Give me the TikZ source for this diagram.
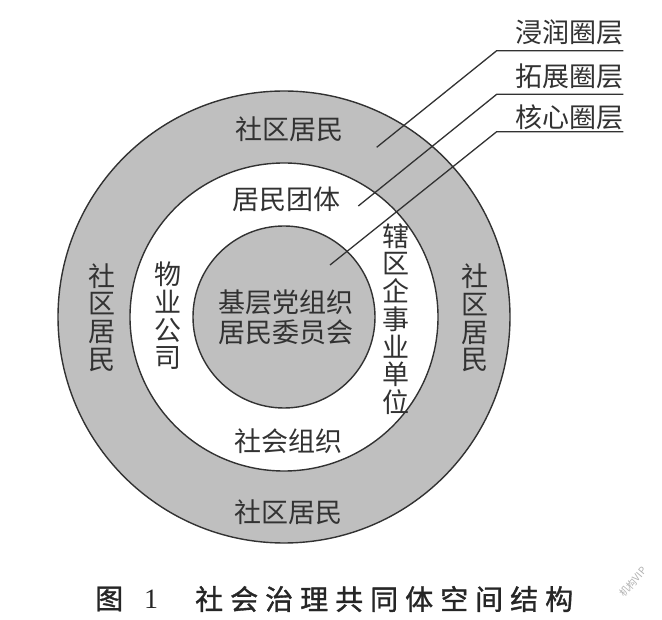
\documentclass[tikz,border=0pt]{standalone}
\usepackage{fontspec}
\newfontfamily\cjk{Noto Sans CJK SC}
\newfontfamily\capfont[LetterSpace=25,FakeBold=1.2]{Noto Sans CJK SC}
\newfontfamily\numfont{Liberation Serif}
\definecolor{ringgray}{RGB}{191,191,191}
\definecolor{inkc}{RGB}{50,50,50}
\begin{document}
\begin{tikzpicture}[x=1pt,y=-1pt,
  lbl/.style={font=\cjk\fontsize{27}{28}\selectfont, text=inkc, inner sep=0pt},
  vlbl/.style={font=\cjk\fontsize{27}{27.7}\selectfont, text=inkc, inner sep=0pt, align=center},
  ring/.style={circle, draw=inkc, line width=1.4pt, inner sep=0pt, outer sep=0pt},
  leader/.style={draw=inkc, line width=1.3pt},
  captxt/.style={font=\capfont\fontsize{28}{30}\selectfont, text=black!85, inner sep=0pt}]
\useasboundingbox[fill=white] (0,0) rectangle (662,620);
% rings
\node[ring, fill=ringgray, minimum size=452pt] (outer) at (284,317) {};
\node[ring, fill=white, minimum size=308pt] (middle) at (284,317) {};
\node[ring, fill=ringgray, minimum size=182pt] (inner) at (284,317) {};
% ring texts
\node[lbl] (t1) at (289,129.5) {社区居民};
\node[lbl] (t2) at (286,199) {居民团体};
\node[vlbl, font=\cjk\fontsize{27}{30}\selectfont] (t3) at (286,317) {基层党组织\\居民委员会};
\node[lbl] (t4) at (288,441) {社会组织};
\node[lbl] (t5) at (288,512) {社区居民};
\node[vlbl] (t6) at (102,317.5) {社\\区\\居\\民};
\node[vlbl] (t7) at (168,316) {物\\业\\公\\司};
\node[vlbl] (t8) at (396,319) {辖\\区\\企\\事\\业\\单\\位};
\node[vlbl] (t9) at (475,318) {社\\区\\居\\民};
% leader labels
\node[lbl, anchor=east] (l1) at (623.5,32.5) {浸润圈层};
\node[lbl, anchor=east] (l2) at (623.5,76) {拓展圈层};
\node[lbl, anchor=east] (l3) at (623.5,117.5) {核心圈层};
\coordinate (e1) at (376.7,147.3);
\coordinate (k1) at (496.7,50.7);
\coordinate (u1) at (623.3,50.7);
\coordinate (e2) at (358.3,206);
\coordinate (k2) at (496.7,94.3);
\coordinate (u2) at (623.3,94.3);
\coordinate (e3) at (330,265);
\coordinate (k3) at (496.7,131.7);
\coordinate (u3) at (623.3,131.7);
\draw[leader] (e1) -- (k1) -- (u1);
\draw[leader] (e2) -- (k2) -- (u2);
\draw[leader] (e3) -- (k3) -- (u3);
% caption
\node[captxt, anchor=west] (c0) at (95,599) {图};
\node[font=\numfont\fontsize{28}{30}\selectfont, text=black!85, inner sep=0pt, anchor=west] (c1) at (144,599) {1};
\node[captxt, anchor=west] (c2) at (195,599) {社会治理共同体空间结构};
% watermark
\node[font=\cjk\fontsize{10}{11}\selectfont, text=black!30, rotate=50, inner sep=0pt] (wm) at (633,582) {机构VIP};
\end{tikzpicture}
\end{document}
